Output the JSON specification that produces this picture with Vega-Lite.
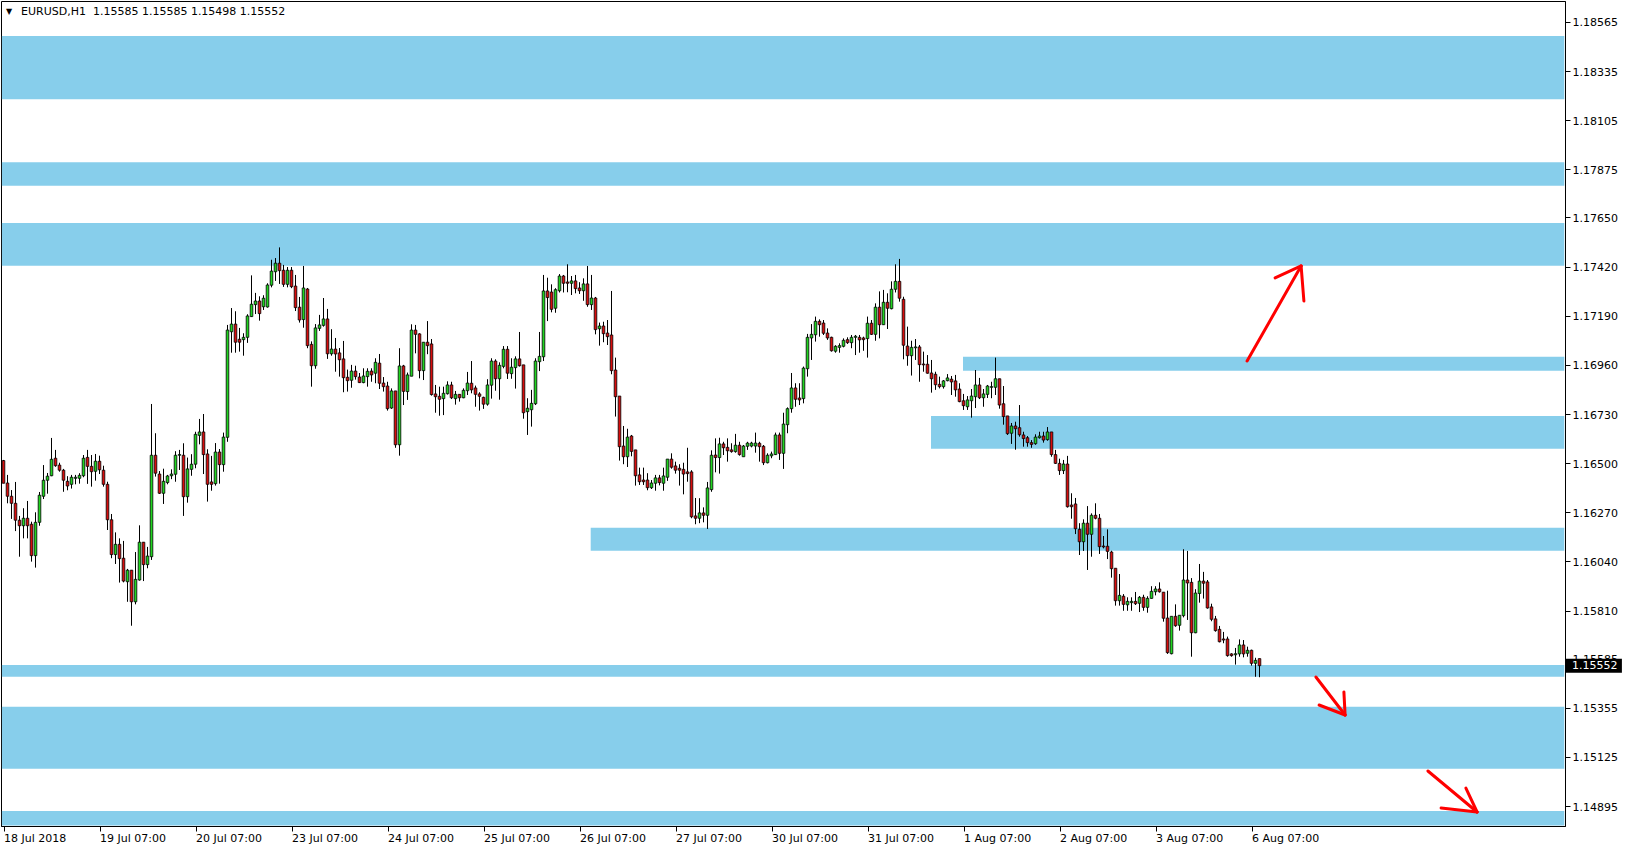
{
"$schema":"https://vega.github.io/schema/vega-lite/v6.json",
"width":1564,"height":825,
"autosize":{"type":"none"},
"padding":{"left":1,"top":1,"right":60,"bottom":24},
"background":"white",
"config":{"view":{"stroke":"black","strokeWidth":1},"axis":{"grid":false,"labelFont":"DejaVu Sans","labelFontSize":11,"labelColor":"black","tickColor":"black","domainColor":"black","title":null}},
"datasets":{
"zones":[
{"a":-0.4,"b":390.2,"top":1.184995,"bot":1.182032},
{"a":-0.4,"b":390.2,"top":1.179083,"bot":1.177987},
{"a":-0.4,"b":390.2,"top":1.176241,"bot":1.174243},
{"a":239.875,"b":390.2,"top":1.169983,"bot":1.169328},
{"a":231.875,"b":390.2,"top":1.167207,"bot":1.165676},
{"a":146.8,"b":390.2,"top":1.161978,"bot":1.160902},
{"a":-0.4,"b":390.2,"top":1.155551,"bot":1.155004},
{"a":-0.4,"b":390.2,"top":1.1536,"bot":1.150698},
{"a":-0.4,"b":390.2,"top":1.148717,"bot":1.14804}
],
"arrows":[
{"a":310.9,"p":1.16978,"b":324.4,"q":1.17423},
{"a":317.9,"p":1.17367,"b":324.4,"q":1.17423},
{"a":324.4,"p":1.17423,"b":325.1,"q":1.17259},
{"a":328.1,"p":1.15499,"b":335.4,"q":1.15321},
{"a":328.9,"p":1.15368,"b":335.4,"q":1.15321},
{"a":335.1,"p":1.15429,"b":335.4,"q":1.15321},
{"a":356.1,"p":1.15059,"b":368.4,"q":1.14867},
{"a":359.4,"p":1.14886,"b":368.4,"q":1.14867},
{"a":365.6,"p":1.14979,"b":368.4,"q":1.14867}
],
"candles":[
{"i":0,"o":1.16512,"h":1.16515,"l":1.16406,"c":1.16406},
{"i":1,"o":1.16407,"h":1.16445,"l":1.16312,"c":1.16345},
{"i":2,"o":1.16345,"h":1.16374,"l":1.16239,"c":1.16312},
{"i":3,"o":1.16312,"h":1.16412,"l":1.16182,"c":1.16233},
{"i":4,"o":1.16233,"h":1.16253,"l":1.16062,"c":1.16207},
{"i":5,"o":1.16207,"h":1.16289,"l":1.16148,"c":1.16242},
{"i":6,"o":1.16242,"h":1.16323,"l":1.16148,"c":1.16207},
{"i":7,"o":1.16214,"h":1.16226,"l":1.16039,"c":1.16067},
{"i":8,"o":1.16067,"h":1.1627,"l":1.16011,"c":1.16223},
{"i":9,"o":1.16223,"h":1.16365,"l":1.16207,"c":1.1635},
{"i":10,"o":1.16345,"h":1.16491,"l":1.16332,"c":1.1642},
{"i":11,"o":1.1642,"h":1.16454,"l":1.16357,"c":1.16439},
{"i":12,"o":1.16441,"h":1.16618,"l":1.16439,"c":1.16518},
{"i":13,"o":1.16523,"h":1.16562,"l":1.16483,"c":1.16488},
{"i":14,"o":1.16491,"h":1.16502,"l":1.1646,"c":1.16467},
{"i":15,"o":1.16467,"h":1.16473,"l":1.16366,"c":1.1642},
{"i":16,"o":1.16415,"h":1.16439,"l":1.16373,"c":1.16393},
{"i":17,"o":1.16401,"h":1.16445,"l":1.16381,"c":1.16434},
{"i":18,"o":1.16429,"h":1.16445,"l":1.16401,"c":1.16434},
{"i":19,"o":1.16429,"h":1.16453,"l":1.16404,"c":1.16443},
{"i":20,"o":1.16441,"h":1.16538,"l":1.16434,"c":1.16523},
{"i":21,"o":1.16527,"h":1.16562,"l":1.16403,"c":1.16485},
{"i":22,"o":1.16485,"h":1.16538,"l":1.1639,"c":1.1646},
{"i":23,"o":1.16462,"h":1.16543,"l":1.16418,"c":1.16509},
{"i":24,"o":1.16509,"h":1.16535,"l":1.16449,"c":1.16469},
{"i":25,"o":1.16467,"h":1.16488,"l":1.1639,"c":1.16401},
{"i":26,"o":1.16401,"h":1.16413,"l":1.16187,"c":1.16235},
{"i":27,"o":1.16235,"h":1.16262,"l":1.16055,"c":1.16072},
{"i":28,"o":1.16072,"h":1.16176,"l":1.16028,"c":1.1612},
{"i":29,"o":1.1612,"h":1.16148,"l":1.15941,"c":1.16053},
{"i":30,"o":1.16055,"h":1.16136,"l":1.15942,"c":1.15948},
{"i":31,"o":1.15945,"h":1.16005,"l":1.15851,"c":1.15999},
{"i":32,"o":1.15999,"h":1.15999,"l":1.15739,"c":1.15851},
{"i":33,"o":1.15851,"h":1.16084,"l":1.15839,"c":1.15956},
{"i":34,"o":1.15953,"h":1.16209,"l":1.1595,"c":1.1613},
{"i":35,"o":1.1613,"h":1.1613,"l":1.15948,"c":1.16025},
{"i":36,"o":1.16025,"h":1.16108,"l":1.16008,"c":1.16065},
{"i":37,"o":1.16062,"h":1.16777,"l":1.16047,"c":1.16537},
{"i":38,"o":1.16537,"h":1.1664,"l":1.16437,"c":1.16453},
{"i":39,"o":1.16449,"h":1.16463,"l":1.16356,"c":1.16359},
{"i":40,"o":1.16359,"h":1.16474,"l":1.16309,"c":1.16415},
{"i":41,"o":1.16409,"h":1.16445,"l":1.16401,"c":1.1644},
{"i":42,"o":1.16441,"h":1.16471,"l":1.16425,"c":1.16449},
{"i":43,"o":1.16448,"h":1.16556,"l":1.16413,"c":1.16537},
{"i":44,"o":1.16537,"h":1.16562,"l":1.16468,"c":1.1654},
{"i":45,"o":1.16537,"h":1.16593,"l":1.16253,"c":1.16343},
{"i":46,"o":1.16343,"h":1.16526,"l":1.16315,"c":1.16473},
{"i":47,"o":1.16471,"h":1.16542,"l":1.16441,"c":1.16495},
{"i":48,"o":1.16495,"h":1.16647,"l":1.16476,"c":1.16635},
{"i":49,"o":1.1663,"h":1.16707,"l":1.16588,"c":1.16646},
{"i":50,"o":1.16646,"h":1.1673,"l":1.16449,"c":1.1654},
{"i":51,"o":1.16543,"h":1.16565,"l":1.1632,"c":1.16401},
{"i":52,"o":1.16412,"h":1.16534,"l":1.16371,"c":1.16401},
{"i":53,"o":1.16404,"h":1.16594,"l":1.16395,"c":1.16552},
{"i":54,"o":1.16552,"h":1.16566,"l":1.16404,"c":1.16493},
{"i":55,"o":1.16493,"h":1.16643,"l":1.1646,"c":1.16622},
{"i":56,"o":1.16621,"h":1.17147,"l":1.166,"c":1.17123},
{"i":57,"o":1.17115,"h":1.17226,"l":1.17017,"c":1.17151},
{"i":58,"o":1.17151,"h":1.17211,"l":1.17017,"c":1.17066},
{"i":59,"o":1.1708,"h":1.17133,"l":1.17022,"c":1.17066},
{"i":60,"o":1.17078,"h":1.17108,"l":1.17003,"c":1.17089},
{"i":61,"o":1.17089,"h":1.17197,"l":1.17063,"c":1.17189},
{"i":62,"o":1.17186,"h":1.17379,"l":1.17184,"c":1.17244},
{"i":63,"o":1.17242,"h":1.17297,"l":1.17198,"c":1.17259},
{"i":64,"o":1.17259,"h":1.17281,"l":1.17167,"c":1.172},
{"i":65,"o":1.17232,"h":1.17286,"l":1.17217,"c":1.17272},
{"i":66,"o":1.17231,"h":1.17342,"l":1.17228,"c":1.17334},
{"i":67,"o":1.17333,"h":1.17452,"l":1.17323,"c":1.17399},
{"i":68,"o":1.17396,"h":1.1746,"l":1.17353,"c":1.17436},
{"i":69,"o":1.17436,"h":1.1751,"l":1.17339,"c":1.17401},
{"i":70,"o":1.17403,"h":1.17428,"l":1.17325,"c":1.17337},
{"i":71,"o":1.17337,"h":1.17418,"l":1.17323,"c":1.17403},
{"i":72,"o":1.17403,"h":1.17418,"l":1.17319,"c":1.17326},
{"i":73,"o":1.17329,"h":1.17381,"l":1.17212,"c":1.17228},
{"i":74,"o":1.1723,"h":1.17278,"l":1.17158,"c":1.1717},
{"i":75,"o":1.17172,"h":1.17423,"l":1.17134,"c":1.1732},
{"i":76,"o":1.17315,"h":1.1732,"l":1.17038,"c":1.1705},
{"i":77,"o":1.17056,"h":1.1707,"l":1.16858,"c":1.16956},
{"i":78,"o":1.16956,"h":1.17151,"l":1.16942,"c":1.17133},
{"i":79,"o":1.17131,"h":1.17194,"l":1.17119,"c":1.17147},
{"i":80,"o":1.17145,"h":1.17273,"l":1.17139,"c":1.17175},
{"i":81,"o":1.17175,"h":1.17222,"l":1.16988,"c":1.17012},
{"i":82,"o":1.17012,"h":1.17127,"l":1.17003,"c":1.17034},
{"i":83,"o":1.17034,"h":1.17086,"l":1.16928,"c":1.17011},
{"i":84,"o":1.17016,"h":1.17039,"l":1.16905,"c":1.16984},
{"i":85,"o":1.16988,"h":1.17072,"l":1.16832,"c":1.169},
{"i":86,"o":1.16902,"h":1.16938,"l":1.16835,"c":1.16886},
{"i":87,"o":1.16888,"h":1.1696,"l":1.16853,"c":1.16931},
{"i":88,"o":1.16931,"h":1.16956,"l":1.16891,"c":1.16905},
{"i":89,"o":1.16903,"h":1.16922,"l":1.16875,"c":1.16877},
{"i":90,"o":1.16877,"h":1.16944,"l":1.16874,"c":1.16908},
{"i":91,"o":1.16905,"h":1.16944,"l":1.16858,"c":1.1693},
{"i":92,"o":1.16931,"h":1.16944,"l":1.16881,"c":1.16913},
{"i":93,"o":1.16921,"h":1.16991,"l":1.16874,"c":1.16972},
{"i":94,"o":1.16968,"h":1.17011,"l":1.16847,"c":1.16874},
{"i":95,"o":1.16875,"h":1.16903,"l":1.16835,"c":1.16858},
{"i":96,"o":1.16861,"h":1.16881,"l":1.16746,"c":1.16755},
{"i":97,"o":1.16758,"h":1.1685,"l":1.16754,"c":1.16838},
{"i":98,"o":1.16838,"h":1.16838,"l":1.16572,"c":1.16586},
{"i":99,"o":1.16586,"h":1.17038,"l":1.16535,"c":1.16955},
{"i":100,"o":1.16955,"h":1.1696,"l":1.16772,"c":1.16836},
{"i":101,"o":1.16835,"h":1.16924,"l":1.16796,"c":1.16913},
{"i":102,"o":1.16907,"h":1.1715,"l":1.16907,"c":1.17123},
{"i":103,"o":1.17123,"h":1.17147,"l":1.17014,"c":1.17103},
{"i":104,"o":1.17105,"h":1.17108,"l":1.16897,"c":1.16933},
{"i":105,"o":1.16933,"h":1.17066,"l":1.16889,"c":1.17066},
{"i":106,"o":1.17066,"h":1.17165,"l":1.1701,"c":1.1705},
{"i":107,"o":1.17058,"h":1.17081,"l":1.16816,"c":1.16821},
{"i":108,"o":1.16824,"h":1.16866,"l":1.16736,"c":1.16811},
{"i":109,"o":1.16813,"h":1.16858,"l":1.16722,"c":1.16799},
{"i":110,"o":1.16802,"h":1.16858,"l":1.16725,"c":1.16827},
{"i":111,"o":1.16825,"h":1.16883,"l":1.16821,"c":1.16866},
{"i":112,"o":1.16866,"h":1.16881,"l":1.168,"c":1.16806},
{"i":113,"o":1.16802,"h":1.16838,"l":1.16774,"c":1.16822},
{"i":114,"o":1.16822,"h":1.16822,"l":1.16788,"c":1.16806},
{"i":115,"o":1.16806,"h":1.1685,"l":1.16804,"c":1.16841},
{"i":116,"o":1.16839,"h":1.16927,"l":1.16819,"c":1.16875},
{"i":117,"o":1.16874,"h":1.16978,"l":1.16827,"c":1.16843},
{"i":118,"o":1.16852,"h":1.16863,"l":1.16764,"c":1.16822},
{"i":119,"o":1.16824,"h":1.16832,"l":1.16746,"c":1.16813},
{"i":120,"o":1.16808,"h":1.16811,"l":1.16754,"c":1.16776},
{"i":121,"o":1.16776,"h":1.16893,"l":1.16769,"c":1.16866},
{"i":122,"o":1.16865,"h":1.16991,"l":1.16802,"c":1.16978},
{"i":123,"o":1.16978,"h":1.16986,"l":1.16839,"c":1.16895},
{"i":124,"o":1.16895,"h":1.16972,"l":1.16797,"c":1.16958},
{"i":125,"o":1.16953,"h":1.17048,"l":1.16944,"c":1.17033},
{"i":126,"o":1.17033,"h":1.17048,"l":1.16894,"c":1.16921},
{"i":127,"o":1.16919,"h":1.16991,"l":1.16895,"c":1.16949},
{"i":128,"o":1.16947,"h":1.17,"l":1.16849,"c":1.16988},
{"i":129,"o":1.16988,"h":1.17114,"l":1.16952,"c":1.16956},
{"i":130,"o":1.1696,"h":1.1696,"l":1.16708,"c":1.16736},
{"i":131,"o":1.16741,"h":1.16804,"l":1.16632,"c":1.16757},
{"i":132,"o":1.1675,"h":1.16843,"l":1.16671,"c":1.1678},
{"i":133,"o":1.16778,"h":1.16991,"l":1.16772,"c":1.16978},
{"i":134,"o":1.16975,"h":1.17114,"l":1.16931,"c":1.17},
{"i":135,"o":1.16998,"h":1.17381,"l":1.16978,"c":1.17306},
{"i":136,"o":1.17306,"h":1.17368,"l":1.17165,"c":1.17275},
{"i":137,"o":1.17301,"h":1.17337,"l":1.17206,"c":1.1722},
{"i":138,"o":1.17225,"h":1.17319,"l":1.17204,"c":1.17312},
{"i":139,"o":1.17307,"h":1.17385,"l":1.17299,"c":1.17376},
{"i":140,"o":1.17376,"h":1.17381,"l":1.17299,"c":1.17342},
{"i":141,"o":1.17348,"h":1.17431,"l":1.173,"c":1.17342},
{"i":142,"o":1.17342,"h":1.17376,"l":1.17287,"c":1.17353},
{"i":143,"o":1.17353,"h":1.17381,"l":1.17295,"c":1.17317},
{"i":144,"o":1.1732,"h":1.17347,"l":1.17292,"c":1.17307},
{"i":145,"o":1.17307,"h":1.17365,"l":1.1726,"c":1.17339},
{"i":146,"o":1.17339,"h":1.17423,"l":1.17232,"c":1.17242},
{"i":147,"o":1.17242,"h":1.17381,"l":1.17217,"c":1.17273},
{"i":148,"o":1.17273,"h":1.17278,"l":1.17103,"c":1.17125},
{"i":149,"o":1.17129,"h":1.17158,"l":1.1705,"c":1.17142},
{"i":150,"o":1.17142,"h":1.17162,"l":1.17066,"c":1.17106},
{"i":151,"o":1.17109,"h":1.1717,"l":1.17053,"c":1.17092},
{"i":152,"o":1.171,"h":1.17306,"l":1.16916,"c":1.16933},
{"i":153,"o":1.16936,"h":1.16994,"l":1.16718,"c":1.16811},
{"i":154,"o":1.16814,"h":1.16814,"l":1.16512,"c":1.16577},
{"i":155,"o":1.1658,"h":1.16674,"l":1.16495,"c":1.1653},
{"i":156,"o":1.1653,"h":1.16661,"l":1.16482,"c":1.16622},
{"i":157,"o":1.16627,"h":1.16632,"l":1.16532,"c":1.16555},
{"i":158,"o":1.16562,"h":1.16562,"l":1.16395,"c":1.16441},
{"i":159,"o":1.16445,"h":1.16479,"l":1.16398,"c":1.16413},
{"i":160,"o":1.16421,"h":1.16479,"l":1.16398,"c":1.16413},
{"i":161,"o":1.16421,"h":1.16453,"l":1.16373,"c":1.16385},
{"i":162,"o":1.16385,"h":1.16421,"l":1.16379,"c":1.16407},
{"i":163,"o":1.16406,"h":1.16445,"l":1.16371,"c":1.16431},
{"i":164,"o":1.16431,"h":1.16445,"l":1.16396,"c":1.16409},
{"i":165,"o":1.16406,"h":1.16479,"l":1.16371,"c":1.1644},
{"i":166,"o":1.16434,"h":1.16519,"l":1.16417,"c":1.16519},
{"i":167,"o":1.16519,"h":1.16546,"l":1.16474,"c":1.16481},
{"i":168,"o":1.16487,"h":1.16507,"l":1.16451,"c":1.16467},
{"i":169,"o":1.16476,"h":1.16495,"l":1.16395,"c":1.16467},
{"i":170,"o":1.16471,"h":1.16502,"l":1.16354,"c":1.16449},
{"i":171,"o":1.16459,"h":1.16572,"l":1.16413,"c":1.16451},
{"i":172,"o":1.16459,"h":1.16467,"l":1.16242,"c":1.16249},
{"i":173,"o":1.16253,"h":1.16337,"l":1.16214,"c":1.16242},
{"i":174,"o":1.16242,"h":1.16336,"l":1.16219,"c":1.16267},
{"i":175,"o":1.16267,"h":1.16293,"l":1.16223,"c":1.16256},
{"i":176,"o":1.16256,"h":1.16412,"l":1.16192,"c":1.16384},
{"i":177,"o":1.16376,"h":1.1656,"l":1.16366,"c":1.16537},
{"i":178,"o":1.16538,"h":1.16616,"l":1.16457,"c":1.16526},
{"i":179,"o":1.16526,"h":1.16619,"l":1.16451,"c":1.1659},
{"i":180,"o":1.1659,"h":1.166,"l":1.16538,"c":1.16572},
{"i":181,"o":1.16574,"h":1.16616,"l":1.16507,"c":1.16558},
{"i":182,"o":1.16562,"h":1.16593,"l":1.16549,"c":1.16554},
{"i":183,"o":1.16554,"h":1.16637,"l":1.16549,"c":1.16584},
{"i":184,"o":1.16584,"h":1.166,"l":1.16535,"c":1.1654},
{"i":185,"o":1.1653,"h":1.16585,"l":1.1653,"c":1.1658},
{"i":186,"o":1.16579,"h":1.166,"l":1.16562,"c":1.16594},
{"i":187,"o":1.1658,"h":1.166,"l":1.16574,"c":1.16594},
{"i":188,"o":1.1658,"h":1.16643,"l":1.16549,"c":1.16594},
{"i":189,"o":1.16593,"h":1.166,"l":1.16507,"c":1.16577},
{"i":190,"o":1.16579,"h":1.16585,"l":1.16491,"c":1.16502},
{"i":191,"o":1.16502,"h":1.16546,"l":1.16499,"c":1.16537},
{"i":192,"o":1.16534,"h":1.16554,"l":1.16523,"c":1.16543},
{"i":193,"o":1.1654,"h":1.16643,"l":1.16538,"c":1.16632},
{"i":194,"o":1.16632,"h":1.16643,"l":1.16515,"c":1.16546},
{"i":195,"o":1.16546,"h":1.16736,"l":1.16473,"c":1.16683},
{"i":196,"o":1.1668,"h":1.16761,"l":1.1664,"c":1.16755},
{"i":197,"o":1.16755,"h":1.16922,"l":1.16736,"c":1.16852},
{"i":198,"o":1.16852,"h":1.16874,"l":1.16764,"c":1.16799},
{"i":199,"o":1.16805,"h":1.16874,"l":1.16772,"c":1.16796},
{"i":200,"o":1.16802,"h":1.16952,"l":1.1678,"c":1.16945},
{"i":201,"o":1.16942,"h":1.17105,"l":1.16905,"c":1.17089},
{"i":202,"o":1.17086,"h":1.17151,"l":1.16983,"c":1.17103},
{"i":203,"o":1.17101,"h":1.17186,"l":1.17069,"c":1.17164},
{"i":204,"o":1.17164,"h":1.17173,"l":1.17092,"c":1.17148},
{"i":205,"o":1.17156,"h":1.1717,"l":1.171,"c":1.17108},
{"i":206,"o":1.17109,"h":1.17131,"l":1.17077,"c":1.17086},
{"i":207,"o":1.17089,"h":1.17092,"l":1.17022,"c":1.17026},
{"i":208,"o":1.17024,"h":1.17052,"l":1.17017,"c":1.17047},
{"i":209,"o":1.17042,"h":1.17061,"l":1.17017,"c":1.1705},
{"i":210,"o":1.17047,"h":1.17084,"l":1.17042,"c":1.17075},
{"i":211,"o":1.17078,"h":1.17089,"l":1.17058,"c":1.17064},
{"i":212,"o":1.17064,"h":1.171,"l":1.17038,"c":1.17089},
{"i":213,"o":1.17089,"h":1.171,"l":1.17006,"c":1.17094},
{"i":214,"o":1.17089,"h":1.171,"l":1.17017,"c":1.17077},
{"i":215,"o":1.17086,"h":1.17092,"l":1.17026,"c":1.17078},
{"i":216,"o":1.17083,"h":1.17186,"l":1.16994,"c":1.17155},
{"i":217,"o":1.17155,"h":1.1717,"l":1.171,"c":1.17103},
{"i":218,"o":1.17103,"h":1.17248,"l":1.17073,"c":1.1723},
{"i":219,"o":1.1723,"h":1.17304,"l":1.17084,"c":1.17148},
{"i":220,"o":1.17148,"h":1.17311,"l":1.17147,"c":1.17253},
{"i":221,"o":1.17253,"h":1.17295,"l":1.17128,"c":1.17225},
{"i":222,"o":1.17223,"h":1.17351,"l":1.1722,"c":1.17314},
{"i":223,"o":1.17314,"h":1.17431,"l":1.17299,"c":1.17351},
{"i":224,"o":1.17351,"h":1.17456,"l":1.17256,"c":1.17272},
{"i":225,"o":1.17267,"h":1.17279,"l":1.16986,"c":1.17052},
{"i":226,"o":1.17048,"h":1.17139,"l":1.16956,"c":1.17003},
{"i":227,"o":1.17003,"h":1.17073,"l":1.1691,"c":1.17042},
{"i":228,"o":1.1704,"h":1.17081,"l":1.16983,"c":1.17044},
{"i":229,"o":1.17044,"h":1.17053,"l":1.16881,"c":1.16961},
{"i":230,"o":1.16964,"h":1.17022,"l":1.16928,"c":1.1696},
{"i":231,"o":1.16963,"h":1.17006,"l":1.16919,"c":1.16921},
{"i":232,"o":1.16922,"h":1.16983,"l":1.1683,"c":1.16895},
{"i":233,"o":1.16916,"h":1.16928,"l":1.16843,"c":1.16867},
{"i":234,"o":1.16869,"h":1.16905,"l":1.1685,"c":1.16858},
{"i":235,"o":1.16858,"h":1.16889,"l":1.16849,"c":1.16885},
{"i":236,"o":1.16886,"h":1.16917,"l":1.16883,"c":1.16899},
{"i":237,"o":1.16893,"h":1.16908,"l":1.16819,"c":1.1688},
{"i":238,"o":1.16885,"h":1.16913,"l":1.16811,"c":1.16843},
{"i":239,"o":1.16847,"h":1.16874,"l":1.16785,"c":1.16788},
{"i":240,"o":1.16792,"h":1.16824,"l":1.16749,"c":1.16769},
{"i":241,"o":1.16764,"h":1.16814,"l":1.16749,"c":1.16796},
{"i":242,"o":1.16792,"h":1.16847,"l":1.16713,"c":1.16814},
{"i":243,"o":1.16811,"h":1.16936,"l":1.16758,"c":1.16866},
{"i":244,"o":1.16866,"h":1.16899,"l":1.168,"c":1.16806},
{"i":245,"o":1.16806,"h":1.16847,"l":1.16764,"c":1.16824},
{"i":246,"o":1.16822,"h":1.16866,"l":1.16805,"c":1.16861},
{"i":247,"o":1.16855,"h":1.16881,"l":1.16804,"c":1.16858},
{"i":248,"o":1.16855,"h":1.16994,"l":1.16819,"c":1.16895},
{"i":249,"o":1.16895,"h":1.16895,"l":1.16755,"c":1.16772},
{"i":250,"o":1.16778,"h":1.16861,"l":1.1668,"c":1.16718},
{"i":251,"o":1.16721,"h":1.16721,"l":1.16632,"c":1.16638},
{"i":252,"o":1.1664,"h":1.16688,"l":1.1659,"c":1.16674},
{"i":253,"o":1.16674,"h":1.16694,"l":1.16563,"c":1.16661},
{"i":254,"o":1.16666,"h":1.16772,"l":1.16624,"c":1.16633},
{"i":255,"o":1.16632,"h":1.16647,"l":1.16577,"c":1.16615},
{"i":256,"o":1.16619,"h":1.16627,"l":1.16577,"c":1.16596},
{"i":257,"o":1.16596,"h":1.16608,"l":1.16572,"c":1.16588},
{"i":258,"o":1.16591,"h":1.16635,"l":1.16586,"c":1.16622},
{"i":259,"o":1.16619,"h":1.16647,"l":1.16615,"c":1.16627},
{"i":260,"o":1.16627,"h":1.16647,"l":1.16596,"c":1.16608},
{"i":261,"o":1.1661,"h":1.16669,"l":1.16605,"c":1.16646},
{"i":262,"o":1.16646,"h":1.16646,"l":1.1653,"c":1.1654},
{"i":263,"o":1.1654,"h":1.16562,"l":1.16496,"c":1.16499},
{"i":264,"o":1.16499,"h":1.16521,"l":1.16445,"c":1.16465},
{"i":265,"o":1.16465,"h":1.16515,"l":1.16449,"c":1.16496},
{"i":266,"o":1.16496,"h":1.16534,"l":1.16292,"c":1.16296},
{"i":267,"o":1.16304,"h":1.16359,"l":1.1624,"c":1.16296},
{"i":268,"o":1.16309,"h":1.16337,"l":1.16168,"c":1.16193},
{"i":269,"o":1.1619,"h":1.16219,"l":1.1607,"c":1.16132},
{"i":270,"o":1.16132,"h":1.16237,"l":1.16089,"c":1.16219},
{"i":271,"o":1.16219,"h":1.16299,"l":1.16,"c":1.16167},
{"i":272,"o":1.16167,"h":1.16265,"l":1.16062,"c":1.16256},
{"i":273,"o":1.16256,"h":1.16312,"l":1.16237,"c":1.16242},
{"i":274,"o":1.16242,"h":1.16262,"l":1.16075,"c":1.16109},
{"i":275,"o":1.16112,"h":1.16159,"l":1.16101,"c":1.16108},
{"i":276,"o":1.16111,"h":1.1619,"l":1.16051,"c":1.16087},
{"i":277,"o":1.16084,"h":1.1609,"l":1.15964,"c":1.16006},
{"i":278,"o":1.16008,"h":1.16008,"l":1.15833,"c":1.15856},
{"i":279,"o":1.15856,"h":1.15981,"l":1.15833,"c":1.15881},
{"i":280,"o":1.15877,"h":1.15887,"l":1.15809,"c":1.15839},
{"i":281,"o":1.15837,"h":1.15872,"l":1.15809,"c":1.15853},
{"i":282,"o":1.15847,"h":1.15872,"l":1.15809,"c":1.15853},
{"i":283,"o":1.15853,"h":1.15897,"l":1.15836,"c":1.15842},
{"i":284,"o":1.15844,"h":1.15878,"l":1.15803,"c":1.15872},
{"i":285,"o":1.15872,"h":1.15884,"l":1.15809,"c":1.15825},
{"i":286,"o":1.15825,"h":1.15877,"l":1.158,"c":1.15867},
{"i":287,"o":1.15867,"h":1.15924,"l":1.15866,"c":1.159},
{"i":288,"o":1.15898,"h":1.15924,"l":1.15881,"c":1.15911},
{"i":289,"o":1.15911,"h":1.15942,"l":1.15894,"c":1.15898},
{"i":290,"o":1.15896,"h":1.15896,"l":1.15758,"c":1.15774},
{"i":291,"o":1.15775,"h":1.15903,"l":1.15607,"c":1.15613},
{"i":292,"o":1.15608,"h":1.15783,"l":1.15605,"c":1.15783},
{"i":293,"o":1.15783,"h":1.15839,"l":1.15734,"c":1.15739},
{"i":294,"o":1.15741,"h":1.15788,"l":1.15716,"c":1.15788},
{"i":295,"o":1.15786,"h":1.16097,"l":1.15778,"c":1.15953},
{"i":296,"o":1.15953,"h":1.16089,"l":1.15766,"c":1.15939},
{"i":297,"o":1.15942,"h":1.15962,"l":1.15594,"c":1.15706},
{"i":298,"o":1.15706,"h":1.1591,"l":1.15704,"c":1.15892},
{"i":299,"o":1.1589,"h":1.16028,"l":1.15847,"c":1.15948},
{"i":300,"o":1.15948,"h":1.15991,"l":1.15866,"c":1.15938},
{"i":301,"o":1.15944,"h":1.15953,"l":1.15819,"c":1.15822},
{"i":302,"o":1.15827,"h":1.15842,"l":1.1576,"c":1.15769},
{"i":303,"o":1.15771,"h":1.15785,"l":1.15711,"c":1.15716},
{"i":304,"o":1.15722,"h":1.15738,"l":1.15661,"c":1.15664},
{"i":305,"o":1.15677,"h":1.1571,"l":1.15657,"c":1.15672},
{"i":306,"o":1.15677,"h":1.15688,"l":1.15594,"c":1.15599},
{"i":307,"o":1.15607,"h":1.1561,"l":1.15594,"c":1.15599},
{"i":308,"o":1.15603,"h":1.15635,"l":1.15557,"c":1.15608},
{"i":309,"o":1.15607,"h":1.15675,"l":1.15594,"c":1.15649},
{"i":310,"o":1.15649,"h":1.15672,"l":1.15591,"c":1.15607},
{"i":311,"o":1.1561,"h":1.15641,"l":1.15594,"c":1.15624},
{"i":312,"o":1.15624,"h":1.15627,"l":1.15552,"c":1.15563},
{"i":313,"o":1.15563,"h":1.15589,"l":1.155,"c":1.15577},
{"i":314,"o":1.15585,"h":1.15585,"l":1.15498,"c":1.15552}
]
},
"layer":[
{"data":{"name":"zones"},
 "mark":{"type":"rect","color":"#87ceeb"},
 "encoding":{
  "x":{"field":"a","type":"quantitative","scale":{"domain":[-0.625,390.375],"nice":false,"zero":false,"padding":0},
       "axis":{"values":[0,24,48,72,96,120,144,168,192,216,240,264,288,312],"labelExpr":"['18 Jul 2018','19 Jul 07:00','20 Jul 07:00','23 Jul 07:00','24 Jul 07:00','25 Jul 07:00','26 Jul 07:00','27 Jul 07:00','30 Jul 07:00','31 Jul 07:00','1 Aug 07:00','2 Aug 07:00','3 Aug 07:00','6 Aug 07:00'][round(datum.value/24)]","labelAlign":"left","labelBaseline":"top","labelPadding":1,"tickSize":5,"labelFlush":false,"labelOverlap":false,"zindex":1}},
  "x2":{"field":"b"},
  "y":{"field":"top","type":"quantitative","scale":{"domain":[1.148015,1.186633],"nice":false,"zero":false,"padding":0},
       "axis":{"orient":"right","values":[1.18565,1.18335,1.18105,1.17875,1.1765,1.1742,1.1719,1.1696,1.1673,1.165,1.1627,1.1604,1.1581,1.15585,1.15355,1.15125,1.14895],"format":".5f","tickSize":5,"labelPadding":2,"labelOffset":1,"labelBaseline":"middle","labelOverlap":false,"labelFlush":false,"zindex":0}},
  "y2":{"field":"bot"}
 }},
{"data":{"name":"candles"},
 "mark":{"type":"rule","color":"black","strokeWidth":1},
 "encoding":{"x":{"field":"i","type":"quantitative"},"y":{"field":"l","type":"quantitative"},"y2":{"field":"h"}}},
{"data":{"name":"candles"},
 "mark":{"type":"bar","size":2.6,"stroke":"black","strokeWidth":0.8},
 "encoding":{"x":{"field":"i","type":"quantitative"},"y":{"field":"o","type":"quantitative"},"y2":{"field":"c"},
  "fill":{"condition":{"test":"datum.c >= datum.o","value":"#1fd61f"},"value":"#d80c0c"}}},
{"data":{"name":"arrows"},
 "mark":{"type":"rule","color":"#ff0000","strokeWidth":3,"strokeCap":"round"},
 "encoding":{"x":{"field":"a","type":"quantitative"},"x2":{"field":"b"},"y":{"field":"p","type":"quantitative"},"y2":{"field":"q"}}},
{"data":{"values":[{"p":1.15552,"t":"1.15552"}]},
 "mark":{"type":"rule","color":"black","strokeWidth":14,"strokeCap":"butt"},
 "encoding":{"x":{"datum":390.375},"x2":{"datum":404.6},"y":{"field":"p","type":"quantitative"}}},
{"data":{"values":[{"p":1.15552,"t":"1.15552"}]},
 "mark":{"type":"text","color":"white","align":"left","baseline":"middle","dx":7,"font":"DejaVu Sans","fontSize":11},
 "encoding":{"x":{"datum":390.375},"y":{"field":"p","type":"quantitative"},"text":{"field":"t"}}},
{"data":{"values":[{"t":"▼"}]},
 "mark":{"type":"text","color":"black","align":"left","baseline":"middle","dx":5,"dy":11,"font":"DejaVu Sans","fontSize":8},
 "encoding":{"x":{"datum":-0.625},"y":{"datum":1.186633},"text":{"field":"t"}}},
{"data":{"values":[{"t":"EURUSD,H1\u00a0 1.15585 1.15585 1.15498 1.15552"}]},
 "mark":{"type":"text","color":"black","align":"left","baseline":"middle","dx":20,"dy":11,"font":"DejaVu Sans","fontSize":11},
 "encoding":{"x":{"datum":-0.625},"y":{"datum":1.186633},"text":{"field":"t"}}}
]
}
